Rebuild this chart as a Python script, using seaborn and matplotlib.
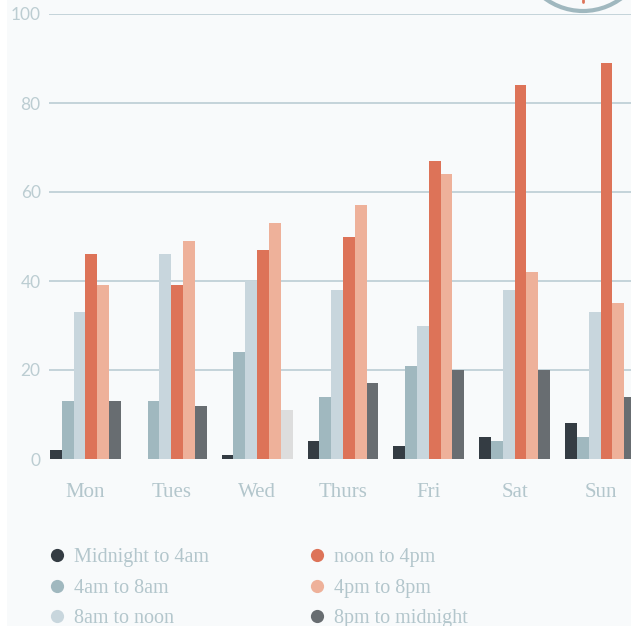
import matplotlib
matplotlib.use("Agg")
import matplotlib.pyplot as plt
import seaborn as sns
import pandas as pd
from matplotlib.lines import Line2D
from matplotlib.patches import Circle, Rectangle

days = ["Mon", "Tues", "Wed", "Thurs", "Fri", "Sat", "Sun"]
periods = ["Midnight to 4am", "4am to 8am", "8am to noon",
           "noon to 4pm", "4pm to 8pm", "8pm to midnight"]
midnight_4am = [2, 0, 1, 4, 3, 5, 8]
am4_8am = [13, 13, 24, 14, 21, 4, 5]
am8_noon = [33, 46, 40, 38, 30, 38, 33]
noon_4pm = [46, 39, 47, 50, 67, 84, 89]
pm4_8pm = [39, 49, 53, 57, 64, 42, 35]
pm8_midnight = [13, 12, 11, 17, 20, 20, 14]
series = [midnight_4am, am4_8am, am8_noon, noon_4pm, pm4_8pm, pm8_midnight]
yticks = [0, 20, 40, 60, 80, 100]

colors = ["#343c43", "#a0b8bf", "#c8d6dd", "#dd7358", "#eeb19a", "#686d71"]
highlight = "#dddddd"
bg = "#f8fafb"
txt = "#b3c6cc"
ytxt = "#bccdd2"
grid = "#c4d3da"

rows = []
for p, vals in zip(periods, series):
    for d, v in zip(days, vals):
        rows.append({"day": d, "period": p, "value": v})
df = pd.DataFrame(rows)

sns.set_style("white")
fig = plt.figure(figsize=(6.31, 6.26), dpi=100, facecolor=bg)
W, H = 631, 626
ax = fig.add_axes([49 / W, (H - 459) / H, (W - 49) / W, (459 - 14) / H])
ax.set_facecolor(bg)

sns.barplot(data=df, x="day", y="value", hue="period", order=days,
            hue_order=periods, palette=colors, saturation=1, width=0.826,
            linewidth=0, legend=False, ax=ax, errorbar=None)

# Wed "8pm to midnight" bar is drawn in light gray in the reference
ax.containers[5][2].set_facecolor(highlight)

ax.set_xlim(-0.424, 6.355)
ax.set_ylim(0, 100)
ax.set_yticks(yticks)
ax.set_yticklabels([str(t) for t in yticks])
ax.yaxis.grid(True, color=grid, linewidth=1.4)
ax.set_axisbelow(True)
ax.get_ygridlines()[0].set_visible(False)
for s in ax.spines.values():
    s.set_visible(False)
ax.set_xlabel("")
ax.set_ylabel("")
ax.tick_params(axis="both", length=0)
ax.tick_params(axis="x", pad=17.5)
ax.tick_params(axis="y", pad=6)
for lab in ax.get_xticklabels():
    lab.set_fontfamily("Liberation Serif")
    lab.set_fontsize(15)
    lab.set_color(txt)
for lab in ax.get_yticklabels():
    lab.set_fontfamily("Lato")
    lab.set_fontsize(12.5)
    lab.set_color(ytxt)

# legends (two columns)
def make_leg(idx, x):
    handles = [Line2D([], [], marker="o", linestyle="none", markersize=9.5,
                      markerfacecolor=colors[i], markeredgewidth=0)
               for i in idx]
    labels = [periods[i] for i in idx]
    leg = fig.legend(handles, labels, loc="upper left",
                     bbox_to_anchor=(x / W, (H - 548) / H), frameon=False,
                     prop={"family": "Liberation Serif", "size": 14.5},
                     labelcolor=txt, handlelength=0.6, handletextpad=0.55,
                     labelspacing=0.57, borderpad=0, borderaxespad=0)
    return leg

make_leg([0, 1, 2], 51)
make_leg([3, 4, 5], 311)

# white strip on left edge
fig.add_artist(Rectangle((0, 0), 7 / W, 1, transform=fig.transFigure,
                         facecolor="white", edgecolor="none", zorder=-1))
# partial ring icon at top right
fig.add_artist(Circle((5.83, (H + 53) / 100), 0.64,
                      transform=fig.dpi_scale_trans, fill=False,
                      edgecolor="#a0b8bf", linewidth=3))
fig.add_artist(Line2D([5.83, 5.83], [6.26, 6.24],
                      transform=fig.dpi_scale_trans, color="#dd7358",
                      linewidth=2))

fig.savefig("out.png", dpi=100, facecolor=bg)
